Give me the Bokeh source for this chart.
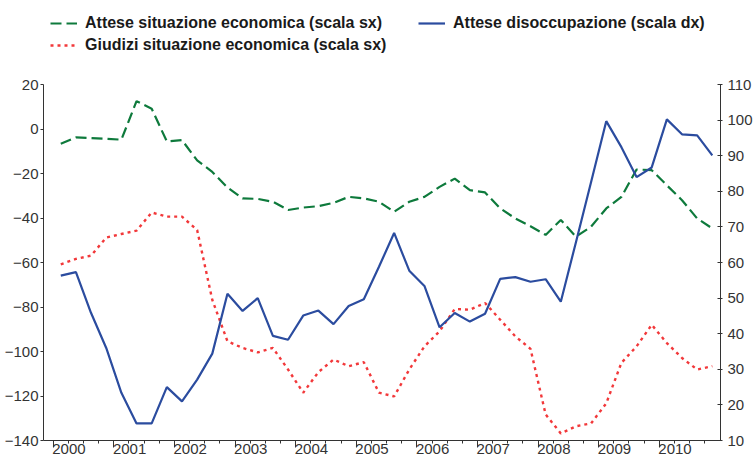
from bokeh.plotting import figure
from bokeh.layouts import column
from bokeh.models import (Range1d, LinearAxis, FixedTicker, Legend, LegendItem,
                          ColumnDataSource, CustomJSTickFormatter)
from bokeh.embed import file_html
from bokeh.resources import INLINE

# ---------------- data (quarterly, 2000Q1 .. 2010Q4) ----------------
years = list(range(2000, 2011))
quarters = [f"{y}Q{q}" for y in years for q in range(1, 5)]

attese_situazione = [
    -6.6, -3.8, -4.1, -4.4, -4.8, 12.5, 9.1, -5.6, -5.0, -14.1,
    -19.3, -26.3, -31.2, -31.4, -32.7, -36.4, -35.3, -34.7, -33.2, -30.5,
    -31.2, -32.7, -37.2, -32.7, -30.5, -26.0, -22.3, -27.5, -28.5, -35.7,
    -40.2, -43.7, -47.6, -40.9, -48.4, -43.9, -35.7, -30.5, -18.2, -18.5,
    -25.3, -32.0, -40.2, -44.7]

giudizi_situazione = [
    -60.8, -58.4, -56.9, -48.8, -47.2, -45.7, -37.5, -39.4, -39.4, -45.4,
    -76.8, -95.4, -98.4, -100.4, -98.4, -108.1, -118.5, -109.3, -103.6, -106.6,
    -104.8, -118.5, -120.2, -108.1, -97.7, -90.9, -80.9, -81.2, -78.2, -85.7,
    -93.2, -98.8, -128.3, -136.8, -133.6, -132.3, -123.3, -105.1, -97.7, -88.0,
    -96.2, -102.9, -108.1, -106.6]

attese_disoccupazione = [
    56.3, 57.3, 45.8, 36.0, 23.4, 14.8, 14.8, 25.0, 21.0, 27.1,
    34.4, 51.2, 46.4, 50.0, 39.4, 38.3, 45.1, 46.5, 42.7, 47.8,
    49.7, 58.8, 68.3, 57.7, 53.4, 41.8, 45.8, 43.4, 45.6, 55.4,
    55.9, 54.6, 55.3, 49.0, 65.7, 82.6, 99.7, 92.4, 84.0, 86.7,
    100.2, 96.0, 95.7, 90.1]

left_ticks = [-140, -120, -100, -80, -60, -40, -20, 0, 20]
right_ticks = [10, 20, 30, 40, 50, 60, 70, 80, 90, 100, 110]

label_green = "Attese situazione economica (scala sx)"
label_blue = "Attese disoccupazione (scala dx)"
label_red = "Giudizi situazione economica (scala sx)"

# quarter midpoints on a continuous time axis
x = [int(s[:4]) + (int(s[5]) - 0.5) / 4 for s in quarters]
source = ColumnDataSource(dict(x=x, green=attese_situazione,
                               red=giudizi_situazione, blue=attese_disoccupazione))

GREEN = "#0E7A3C"
BLUE = "#2B4C9F"
RED = "#F2383A"
AXIS = "#333333"
FONT = "Liberation Sans"

GREEN_STYLE = dict(line_color=GREEN, line_width=2.2, line_dash="11 5")
RED_STYLE = dict(line_color=RED, line_width=2.4, line_dash="3 4")
BLUE_STYLE = dict(line_color=BLUE, line_width=2.2)

# ================= main chart =================
p = figure(frame_width=677, frame_height=356,
           x_range=Range1d(1999.84, 2011.01), y_range=Range1d(-140, 20),
           output_backend="svg", toolbar_location=None,
           min_border_left=43, min_border_right=35, min_border_top=10,
           min_border_bottom=0)
p.extra_y_ranges = {"right": Range1d(10, 110)}

p.outline_line_color = None
p.xgrid.visible = False
p.ygrid.visible = False
p.background_fill_color = "white"
p.border_fill_color = "white"

# ---- bottom axis A: year ticks + quarter minor ticks, no labels ----
xa = p.xaxis[0]
xa.ticker = FixedTicker(ticks=years,
                        minor_ticks=[y + q / 4 for y in years for q in (1, 2, 3)])
xa.major_tick_out = 7
xa.major_tick_in = 0
xa.minor_tick_out = 3
xa.minor_tick_in = 0
xa.major_label_text_color = None
xa.axis_line_color = AXIS
xa.major_tick_line_color = AXIS
xa.minor_tick_line_color = AXIS

# ---- bottom axis B: year labels placed just right of each year tick ----
xb = LinearAxis(ticker=FixedTicker(ticks=[y + 0.26 for y in years], minor_ticks=[]),
                formatter=CustomJSTickFormatter(code="return String(Math.floor(tick));"))
xb.major_tick_out = 0
xb.major_tick_in = 0
xb.minor_tick_out = 0
xb.minor_tick_in = 0
xb.axis_line_color = None
xb.major_label_standoff = -4
xb.major_label_text_font = FONT
xb.major_label_text_font_size = "15px"
xb.major_label_text_color = AXIS
p.add_layout(xb, "below")

# ---- left axis ----
ya = p.yaxis[0]
ya.ticker = FixedTicker(ticks=left_ticks, minor_ticks=[])
ya.major_tick_out = 3
ya.major_tick_in = 0
ya.minor_tick_out = 0
ya.minor_tick_in = 0
ya.major_label_standoff = 2
ya.axis_line_color = AXIS
ya.major_tick_line_color = AXIS
ya.major_label_text_font = FONT
ya.major_label_text_font_size = "15px"
ya.major_label_text_color = AXIS

# ---- right axis ----
yr = LinearAxis(y_range_name="right", ticker=FixedTicker(ticks=right_ticks, minor_ticks=[]))
yr.major_tick_out = 2
yr.major_tick_in = 3
yr.minor_tick_out = 0
yr.minor_tick_in = 0
yr.major_label_standoff = 5
yr.axis_line_color = AXIS
yr.major_tick_line_color = AXIS
yr.major_label_text_font = FONT
yr.major_label_text_font_size = "15px"
yr.major_label_text_color = AXIS
p.add_layout(yr, "right")

# ---- series ----
p.line("x", "green", source=source, **GREEN_STYLE)
p.line("x", "red", source=source, **RED_STYLE)
p.line("x", "blue", source=source, y_range_name="right", **BLUE_STYLE)

# ================= legend strip above the chart =================
lf = figure(width=755, height=74, output_backend="svg", toolbar_location=None,
            x_axis_type=None, y_axis_type=None, x_range=Range1d(0, 1),
            y_range=Range1d(0, 1), min_border=0)
lf.outline_line_color = None
lf.xgrid.visible = False
lf.ygrid.visible = False
lf.border_fill_color = "white"
lf.background_fill_color = "white"

# same series (they fall outside this strip's ranges; only their legend glyphs show)
g_green = lf.line("x", "green", source=source, **GREEN_STYLE)
g_blue = lf.line("x", "blue", source=source, **BLUE_STYLE)
g_red = lf.line("x", "red", source=source, **RED_STYLE)

LEG = dict(orientation="horizontal", padding=0, margin=0, label_standoff=8,
           glyph_width=27, glyph_height=20, label_height=20,
           border_line_color=None, background_fill_alpha=0,
           label_text_font=FONT, label_text_font_style="bold",
           label_text_font_size="16px", label_text_color="#1a1a1a")

leg1 = Legend(items=[LegendItem(label=label_green, renderers=[g_green]),
                     LegendItem(label=label_blue, renderers=[g_blue])],
              location=(7, 41), spacing=36, **LEG)
leg2 = Legend(items=[LegendItem(label=label_red, renderers=[g_red])],
              location=(7, 19), spacing=10, **LEG)
lf.add_layout(leg1, "center")
lf.add_layout(leg2, "center")

layout = column(lf, p, spacing=0)
open("out.html", "w").write(file_html(layout, INLINE))
